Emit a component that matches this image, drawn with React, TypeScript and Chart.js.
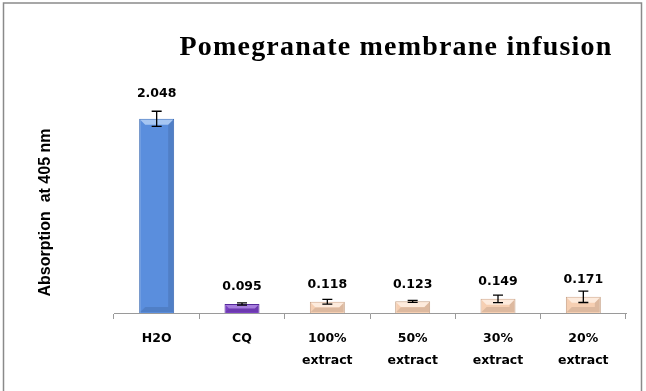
import React, { useEffect, useRef } from "react";
import { Chart, registerables } from "chart.js";

Chart.register(...registerables);

const chartTitle = "Pomegranate membrane infusion";
const yAxisTitle = "Absorption  at 405 nm";
const categories: string[][] = [
  ["H2O"],
  ["CQ"],
  ["100%", "extract"],
  ["50%", "extract"],
  ["30%", "extract"],
  ["20%", "extract"],
];
const values = [2.048, 0.095, 0.118, 0.123, 0.149, 0.171];
const errors = [0.08, 0.012, 0.025, 0.01, 0.04, 0.06];
const valueLabels = ["2.048", "0.095", "0.118", "0.123", "0.149", "0.171"];
const barFills = ["#5A8EDD", "#7A40C4", "#F6CFB2", "#F6CFB2", "#F6CFB2", "#F6CFB2"];
const barEdges = ["#3D6CB5", "#55289A", "#C7A388", "#C7A388", "#C7A388", "#C7A388"];
const barTops = ["#A6C6F2", "#A67DDD", "#FDEBDD", "#FDEBDD", "#FDEBDD", "#FDEBDD"];

const decorPlugin = {
  id: "decor",
  afterDatasetsDraw(chart: any) {
    const ctx = chart.ctx;
    const yScale = chart.scales.y;
    const meta = chart.getDatasetMeta(0);
    meta.data.forEach((bar: any, i: number) => {
      const p = bar.getProps(["x", "y", "base", "width"], true);
      const x0 = p.x - p.width / 2;
      const x1 = p.x + p.width / 2;
      const top = p.y;
      const base = p.base;
      const b = Math.min(5, (base - top) / 2.5);
      // bevel: top highlight
      ctx.save();
      ctx.fillStyle = barTops[i];
      ctx.beginPath();
      ctx.moveTo(x0 + 1, top + 1);
      ctx.lineTo(x1 - 1, top + 1);
      ctx.lineTo(x1 - 1 - b, top + 1 + b);
      ctx.lineTo(x0 + 1 + b, top + 1 + b);
      ctx.closePath();
      ctx.fill();
      // right/bottom shade
      ctx.fillStyle = "rgba(0,0,0,0.10)";
      ctx.beginPath();
      ctx.moveTo(x1 - 1, top + 1);
      ctx.lineTo(x1 - 1, base - 1);
      ctx.lineTo(x0 + 1, base - 1);
      ctx.lineTo(x0 + 1 + b, base - 1 - b);
      ctx.lineTo(x1 - 1 - b, base - 1 - b);
      ctx.lineTo(x1 - 1 - b, top + 1 + b);
      ctx.closePath();
      ctx.fill();
      ctx.restore();

      // error bar
      const yHi = yScale.getPixelForValue(values[i] + errors[i]);
      const yLo = yScale.getPixelForValue(values[i] - errors[i]);
      ctx.save();
      ctx.strokeStyle = "#000";
      ctx.lineWidth = 1.3;
      ctx.beginPath();
      ctx.moveTo(p.x, yHi);
      ctx.lineTo(p.x, yLo);
      ctx.moveTo(p.x - 5, yHi);
      ctx.lineTo(p.x + 5, yHi);
      ctx.moveTo(p.x - 5, yLo);
      ctx.lineTo(p.x + 5, yLo);
      ctx.stroke();
      ctx.restore();

      // value label
      const ly = errors[i] > 0.07 ? yHi - 18 : top - 17;
      ctx.save();
      ctx.fillStyle = "#000";
      ctx.font = "bold 12.5px 'DejaVu Sans'";
      ctx.textAlign = "center";
      ctx.textBaseline = "middle";
      ctx.fillText(valueLabels[i], p.x, ly);
      ctx.restore();
    });
  },
  afterDraw(chart: any) {
    const ctx = chart.ctx;
    // title
    ctx.save();
    ctx.fillStyle = "#000";
    ctx.font = "bold 28px 'Liberation Serif'";
    try {
      (ctx as any).letterSpacing = "1.2px";
    } catch (e) {}
    ctx.textAlign = "center";
    ctx.textBaseline = "alphabetic";
    ctx.fillText(chartTitle, 396, 55);
    ctx.restore();
    // y axis title
    ctx.save();
    ctx.fillStyle = "#000";
    ctx.font = "bold 16px 'Liberation Sans'";
    ctx.translate(49.5, 212.5);
    ctx.rotate(-Math.PI / 2);
    ctx.textAlign = "center";
    ctx.textBaseline = "alphabetic";
    ctx.fillText(yAxisTitle, 0, 0);
    ctx.restore();
    // outer border
    ctx.save();
    ctx.strokeStyle = "#8A8A8A";
    ctx.lineWidth = 1.5;
    ctx.strokeRect(3.5, 3, 638, 420);
    ctx.restore();
  },
};

export default function App() {
  const canvasRef = useRef<HTMLCanvasElement | null>(null);

  useEffect(() => {
    document.body.style.margin = "0";
    const canvas = canvasRef.current;
    if (!canvas) return;
    const chart = new Chart(canvas, {
      type: "bar",
      data: {
        labels: categories,
        datasets: [
          {
            data: values,
            backgroundColor: barFills,
            borderColor: barEdges,
            borderWidth: 1,
            categoryPercentage: 1,
            barPercentage: 0.41,
          },
        ],
      },
      options: {
        responsive: false,
        animation: false,
        devicePixelRatio: 1,
        layout: { padding: { left: 114, right: 20, top: 76, bottom: 10 } },
        plugins: {
          legend: { display: false },
          title: { display: false },
          tooltip: { enabled: false },
        },
        scales: {
          x: {
            offset: true,
            grid: {
              offset: true,
              drawOnChartArea: false,
              drawTicks: true,
              tickLength: 6,
              color: "#9A9A9A",
            },
            border: { display: true, color: "#9A9A9A", width: 1 },
            ticks: {
              color: "#000",
              padding: 9,
              maxRotation: 0,
              autoSkip: false,
              font: { family: "'DejaVu Sans'", size: 12.5, weight: "bold", lineHeight: 1.76 },
            },
          },
          y: {
            display: false,
            min: 0,
            max: 2.5,
          },
        },
      },
      plugins: [decorPlugin],
    });
    return () => chart.destroy();
  }, []);

  return (
    <div style={{ position: "absolute", left: 0, top: 0, width: 646, height: 391, background: "#fff" }}>
      <canvas ref={canvasRef} width={646} height={391} style={{ display: "block" }} />
    </div>
  );
}
